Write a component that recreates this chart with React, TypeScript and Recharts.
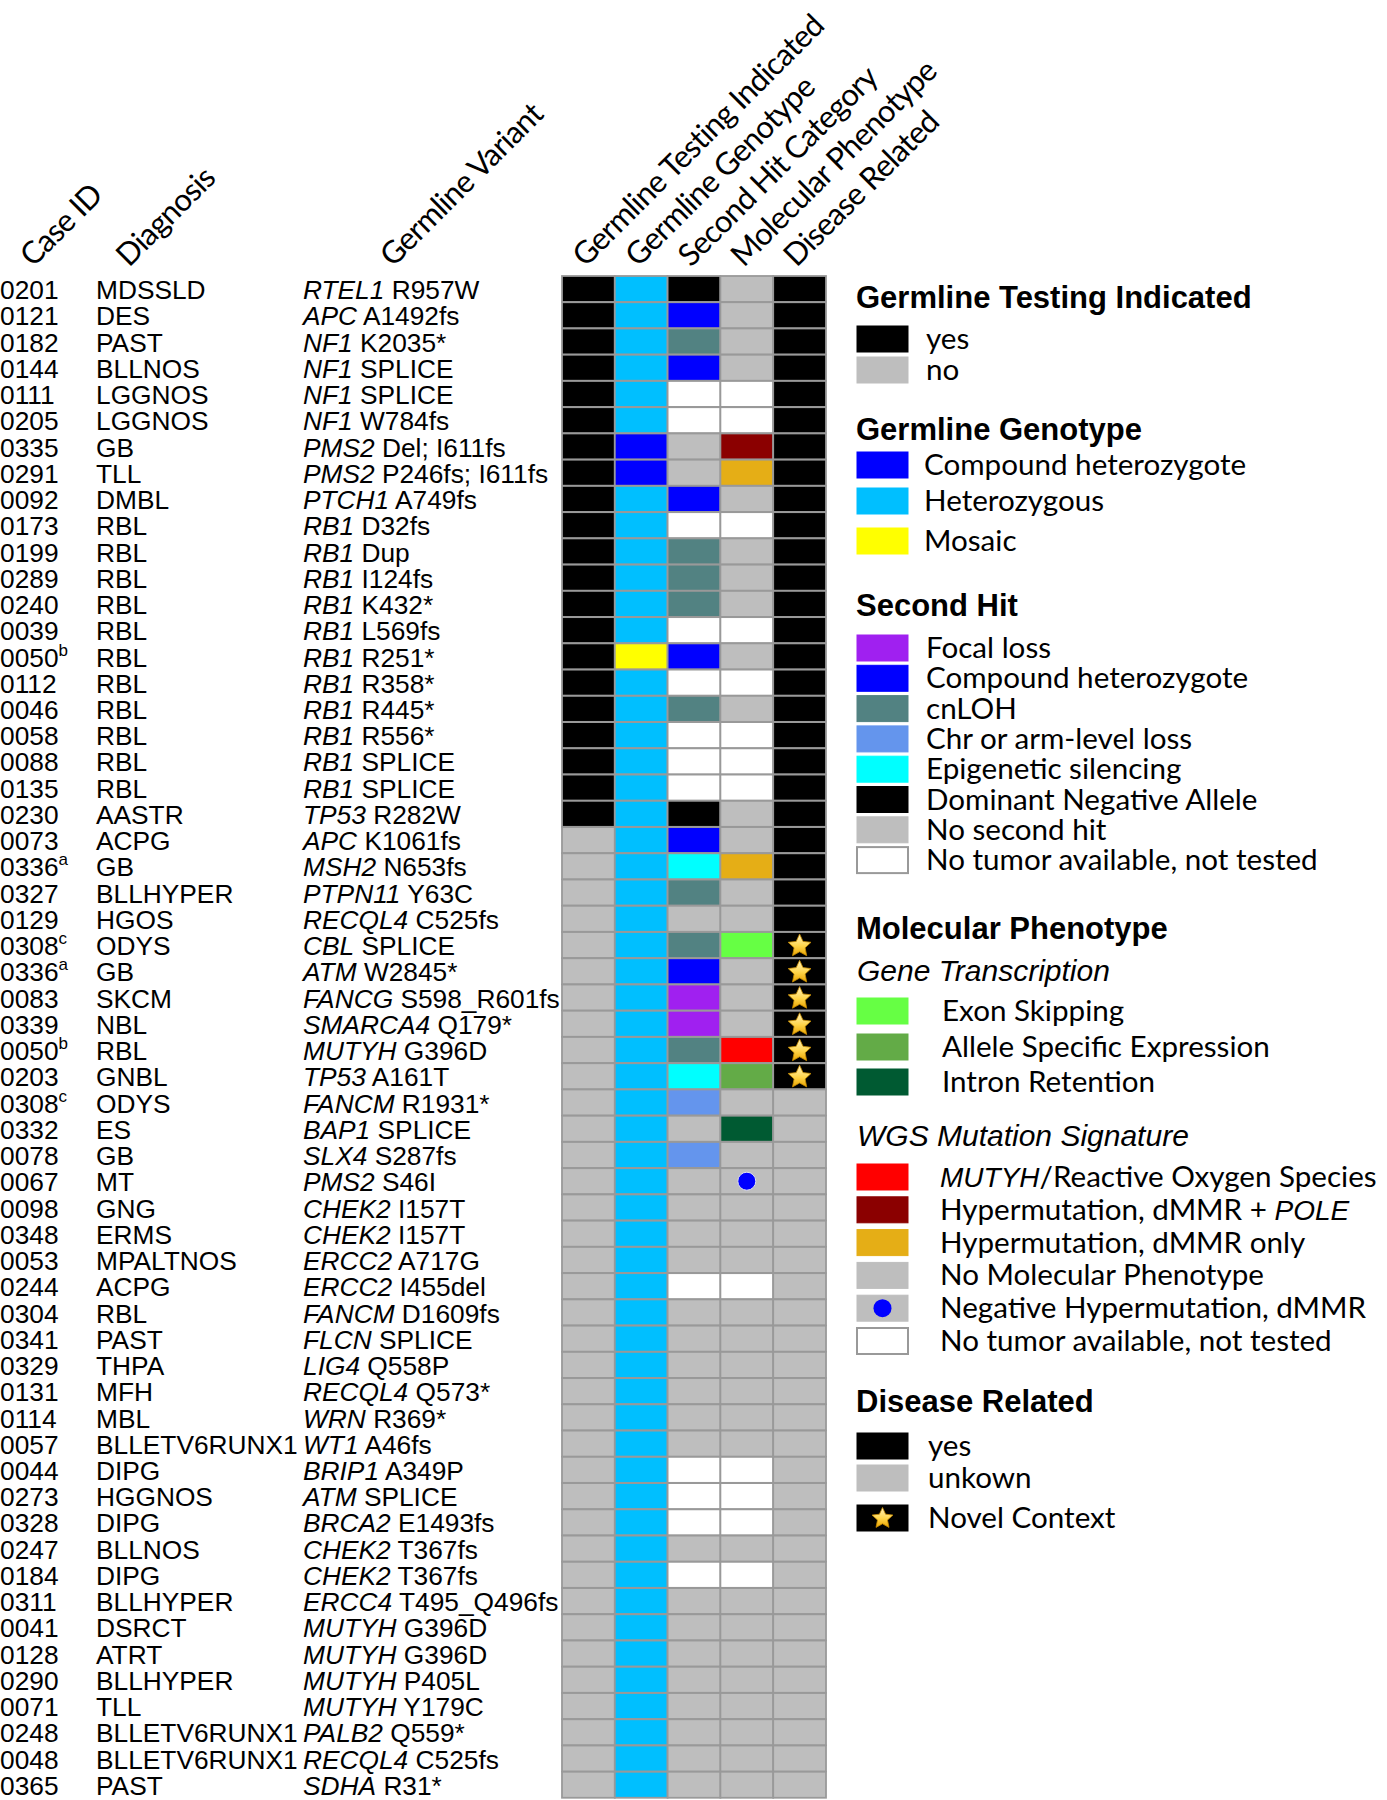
import { BarChart, Bar, XAxis, YAxis } from "recharts";

// row labels
const caseIds = [
  "0201", "0121", "0182", "0144", "0111", "0205", "0335", "0291", "0092", "0173",
  "0199", "0289", "0240", "0039", "0050", "0112", "0046", "0058", "0088", "0135",
  "0230", "0073", "0336", "0327", "0129", "0308", "0336", "0083", "0339", "0050",
  "0203", "0308", "0332", "0078", "0067", "0098", "0348", "0053", "0244", "0304",
  "0341", "0329", "0131", "0114", "0057", "0044", "0273", "0328", "0247", "0184",
  "0311", "0041", "0128", "0290", "0071", "0248", "0048", "0365",
];
const caseNotes = [
  "", "", "", "", "", "", "", "", "", "",
  "", "", "", "", "b", "", "", "", "", "",
  "", "", "a", "", "", "c", "a", "", "", "b",
  "", "c", "", "", "", "", "", "", "", "",
  "", "", "", "", "", "", "", "", "", "",
  "", "", "", "", "", "", "", "",
];
const diagnoses = [
  "MDSSLD", "DES", "PAST", "BLLNOS", "LGGNOS", "LGGNOS", "GB", "TLL", "DMBL", "RBL",
  "RBL", "RBL", "RBL", "RBL", "RBL", "RBL", "RBL", "RBL", "RBL", "RBL",
  "AASTR", "ACPG", "GB", "BLLHYPER", "HGOS", "ODYS", "GB", "SKCM", "NBL", "RBL",
  "GNBL", "ODYS", "ES", "GB", "MT", "GNG", "ERMS", "MPALTNOS", "ACPG", "RBL",
  "PAST", "THPA", "MFH", "MBL", "BLLETV6RUNX1", "DIPG", "HGGNOS", "DIPG", "BLLNOS", "DIPG",
  "BLLHYPER", "DSRCT", "ATRT", "BLLHYPER", "TLL", "BLLETV6RUNX1", "BLLETV6RUNX1", "PAST",
];
const genes = [
  "RTEL1", "APC", "NF1", "NF1", "NF1", "NF1", "PMS2", "PMS2", "PTCH1", "RB1",
  "RB1", "RB1", "RB1", "RB1", "RB1", "RB1", "RB1", "RB1", "RB1", "RB1",
  "TP53", "APC", "MSH2", "PTPN11", "RECQL4", "CBL", "ATM", "FANCG", "SMARCA4", "MUTYH",
  "TP53", "FANCM", "BAP1", "SLX4", "PMS2", "CHEK2", "CHEK2", "ERCC2", "ERCC2", "FANCM",
  "FLCN", "LIG4", "RECQL4", "WRN", "WT1", "BRIP1", "ATM", "BRCA2", "CHEK2", "CHEK2",
  "ERCC4", "MUTYH", "MUTYH", "MUTYH", "MUTYH", "PALB2", "RECQL4", "SDHA",
];
const variants = [
  "R957W", "A1492fs", "K2035*", "SPLICE", "SPLICE", "W784fs", "Del; I611fs", "P246fs; I611fs", "A749fs", "D32fs",
  "Dup", "I124fs", "K432*", "L569fs", "R251*", "R358*", "R445*", "R556*", "SPLICE", "SPLICE",
  "R282W", "K1061fs", "N653fs", "Y63C", "C525fs", "SPLICE", "W2845*", "S598_R601fs", "Q179*", "G396D",
  "A161T", "R1931*", "SPLICE", "S287fs", "S46I", "I157T", "I157T", "A717G", "I455del", "D1609fs",
  "SPLICE", "Q558P", "Q573*", "R369*", "A46fs", "A349P", "SPLICE", "E1493fs", "T367fs", "T367fs",
  "T495_Q496fs", "G396D", "G396D", "P405L", "Y179C", "Q559*", "C525fs", "R31*",
];

// one category per cell, per column
const testing = [
  "yes", "yes", "yes", "yes", "yes", "yes", "yes", "yes", "yes", "yes",
  "yes", "yes", "yes", "yes", "yes", "yes", "yes", "yes", "yes", "yes",
  "yes", "no", "no", "no", "no", "no", "no", "no", "no", "no",
  "no", "no", "no", "no", "no", "no", "no", "no", "no", "no",
  "no", "no", "no", "no", "no", "no", "no", "no", "no", "no",
  "no", "no", "no", "no", "no", "no", "no", "no",
];
const genotype = [
  "het", "het", "het", "het", "het", "het", "comp", "comp", "het", "het",
  "het", "het", "het", "het", "mos", "het", "het", "het", "het", "het",
  "het", "het", "het", "het", "het", "het", "het", "het", "het", "het",
  "het", "het", "het", "het", "het", "het", "het", "het", "het", "het",
  "het", "het", "het", "het", "het", "het", "het", "het", "het", "het",
  "het", "het", "het", "het", "het", "het", "het", "het",
];
const secondHit = [
  "dom", "comp", "cnloh", "comp", "nt", "nt", "none", "none", "comp", "nt",
  "cnloh", "cnloh", "cnloh", "nt", "comp", "nt", "cnloh", "nt", "nt", "nt",
  "dom", "comp", "epi", "cnloh", "none", "cnloh", "comp", "focal", "focal", "cnloh",
  "epi", "chr", "none", "chr", "none", "none", "none", "none", "nt", "none",
  "none", "none", "none", "none", "none", "nt", "nt", "nt", "none", "nt",
  "none", "none", "none", "none", "none", "none", "none", "none",
];
const molecular = [
  "none", "none", "none", "none", "nt", "nt", "pole", "dmmr", "none", "nt",
  "none", "none", "none", "nt", "none", "nt", "none", "nt", "nt", "nt",
  "none", "none", "dmmr", "none", "none", "exon", "none", "none", "none", "mutyh",
  "ase", "none", "intron", "none", "neg", "none", "none", "none", "nt", "none",
  "none", "none", "none", "none", "none", "nt", "nt", "nt", "none", "nt",
  "none", "none", "none", "none", "none", "none", "none", "none",
];
const disease = [
  "yes", "yes", "yes", "yes", "yes", "yes", "yes", "yes", "yes", "yes",
  "yes", "yes", "yes", "yes", "yes", "yes", "yes", "yes", "yes", "yes",
  "yes", "yes", "yes", "yes", "yes", "novel", "novel", "novel", "novel", "novel",
  "novel", "unk", "unk", "unk", "unk", "unk", "unk", "unk", "unk", "unk",
  "unk", "unk", "unk", "unk", "unk", "unk", "unk", "unk", "unk", "unk",
  "unk", "unk", "unk", "unk", "unk", "unk", "unk", "unk",
];

const columnTitles = [
  "Germline Testing Indicated",
  "Germline Genotype",
  "Second Hit Category",
  "Molecular Phenotype",
  "Disease Related",
];
const leftTitles = ["Case ID", "Diagnosis", "Germline Variant"];

const testingLegend = [
  { code: "yes", label: "yes" },
  { code: "no", label: "no" },
];
const genotypeLegend = [
  { code: "comp", label: "Compound heterozygote" },
  { code: "het", label: "Heterozygous" },
  { code: "mos", label: "Mosaic" },
];
const secondHitLegend = [
  { code: "focal", label: "Focal loss" },
  { code: "comp", label: "Compound heterozygote" },
  { code: "cnloh", label: "cnLOH" },
  { code: "chr", label: "Chr or arm-level loss" },
  { code: "epi", label: "Epigenetic silencing" },
  { code: "dom", label: "Dominant Negative Allele" },
  { code: "none", label: "No second hit" },
  { code: "nt", label: "No tumor available, not tested" },
];
const transcriptionLegend = [
  { code: "exon", label: "Exon Skipping" },
  { code: "ase", label: "Allele Specific Expression" },
  { code: "intron", label: "Intron Retention" },
];
const signatureLegend = [
  { code: "mutyh", label: "MUTYH/Reactive Oxygen Species" },
  { code: "pole", label: "Hypermutation, dMMR + POLE" },
  { code: "dmmr", label: "Hypermutation, dMMR only" },
  { code: "none", label: "No Molecular Phenotype" },
  { code: "neg", label: "Negative Hypermutation, dMMR" },
  { code: "nt", label: "No tumor available, not tested" },
];
const diseaseLegend = [
  { code: "yes", label: "yes" },
  { code: "unk", label: "unkown" },
  { code: "novel", label: "Novel Context" },
];

const COLORS: Record<string, string> = {
  yes: "#000000",
  no: "#BEBEBE",
  het: "#00BFFF",
  comp: "#0000FF",
  mos: "#FFFF00",
  focal: "#A020F0",
  cnloh: "#528282",
  chr: "#6495ED",
  epi: "#00FFFF",
  dom: "#000000",
  none: "#BEBEBE",
  nt: "#FFFFFF",
  exon: "#66FF44",
  ase: "#63AB47",
  intron: "#005A32",
  mutyh: "#FF0000",
  pole: "#8B0000",
  dmmr: "#E5AE16",
  neg: "#BEBEBE",
  unk: "#BEBEBE",
  novel: "#000000",
};

const columns = [testing, genotype, secondHit, molecular, disease];
const rows = caseIds.map((_, i) => ({ key: String(i), c0: 1, c1: 1, c2: 1, c3: 1, c4: 1 }));

const W = 1387;
const H = 1800;
const ARIAL = "'Liberation Sans', Arial, Helvetica, sans-serif";
const MYRIAD = "Lato, 'Open Sans', sans-serif";
const ROW_TEXT_X = [0, 96, 303];
const LEFT_TITLE_X = [33, 129, 393];
const GRID = "#999999";

function Star({ cx, cy, r }: { cx: number; cy: number; r: number }) {
  const pts: string[] = [];
  for (let k = 0; k < 10; k++) {
    const rad = k % 2 === 0 ? r : r * 0.48;
    const a = -Math.PI / 2 + (k * Math.PI) / 5;
    pts.push(`${(cx + rad * Math.cos(a)).toFixed(1)},${(cy + rad * Math.sin(a)).toFixed(1)}`);
  }
  return (
    <g>
      <defs>
        <linearGradient id="starGrad" x1="0" y1="0" x2="0" y2="1">
          <stop offset="0%" stopColor="#FFF4C4" />
          <stop offset="55%" stopColor="#FFD54A" />
          <stop offset="100%" stopColor="#E9A400" />
        </linearGradient>
      </defs>
      <polygon points={pts.join(" ")} fill="url(#starGrad)" stroke="#C58A00" strokeWidth={0.8} strokeLinejoin="round" />
    </g>
  );
}

const cellShape = (col: number) => (p: any) => {
  const i = Number(p.payload.key);
  const code = columns[col][i];
  const cx = p.x + p.width / 2;
  const cy = p.y + p.height / 2;
  return (
    <g>
      <rect x={p.x} y={p.y} width={p.width} height={p.height} fill={COLORS[code]} stroke={GRID} strokeWidth={1.8} />
      {code === "novel" && <Star cx={cx} cy={cy + 1} r={12} />}
      {code === "neg" && <circle cx={cx} cy={cy} r={9} fill="#0000FF" stroke="#E0E0F0" strokeWidth={1} />}
    </g>
  );
};

function RowTick(props: any) {
  const { y, payload } = props;
  const i = Number(payload.value);
  const base = y + 10;
  return (
    <g fontFamily={ARIAL} fontSize={26.3} fill="#000">
      <text x={ROW_TEXT_X[0]} y={base}>
        {caseIds[i]}
        {caseNotes[i] && (
          <tspan dy={-11} fontSize={17}>
            {caseNotes[i]}
          </tspan>
        )}
      </text>
      <text x={ROW_TEXT_X[1]} y={base}>
        {diagnoses[i]}
      </text>
      <text x={ROW_TEXT_X[2]} y={base}>
        <tspan fontStyle="italic">{genes[i]}</tspan>
        {" "}
        {variants[i]}
      </text>
    </g>
  );
}

function HeaderTick(props: any) {
  const { x, y, payload } = props;
  const idx = Math.floor(payload.value);
  const ty = y - 8;
  return (
    <g fontFamily={MYRIAD} fontSize={31} letterSpacing={-0.8} fill="#000">
      <text transform={`translate(${x - 3},${ty}) rotate(-45)`}>{columnTitles[idx]}</text>
      {idx === 0 &&
        leftTitles.map((t, k) => (
          <text key={t} transform={`translate(${LEFT_TITLE_X[k]},${ty}) rotate(-45)`}>
            {t}
          </text>
        ))}
    </g>
  );
}

function LegendLabel({ text }: { text: string }) {
  const parts = text.split(/(MUTYH|POLE)/);
  return (
    <>
      {parts.map((s, k) =>
        s === "MUTYH" || s === "POLE" ? (
          <tspan key={k} fontFamily={ARIAL} fontStyle="italic" fontSize={28}>
            {s}
          </tspan>
        ) : (
          <tspan key={k}>{s}</tspan>
        )
      )}
    </>
  );
}

function LegendEntries({
  items,
  tops,
  textX,
}: {
  items: { code: string; label: string }[];
  tops: number[];
  textX: number;
}) {
  return (
    <g>
      {items.map((it, k) => {
        const y = tops[k];
        return (
          <g key={it.label}>
            <rect
              x={857}
              y={y}
              width={51}
              height={26}
              fill={COLORS[it.code]}
              stroke={it.code === "nt" ? GRID : COLORS[it.code]}
              strokeWidth={it.code === "nt" ? 2 : 1}
            />
            {it.code === "novel" && <Star cx={882.5} cy={y + 13.5} r={11} />}
            {it.code === "neg" && <circle cx={882.5} cy={y + 13} r={9} fill="#0000FF" />}
            <text x={textX} y={y + 23} fontFamily={MYRIAD} fontSize={29.6} fill="#000">
              <LegendLabel text={it.label} />
            </text>
          </g>
        );
      })}
    </g>
  );
}

const spaced = (start: number, step: number, n: number) => Array.from({ length: n }, (_, k) => start + k * step);

function LegendPanel() {
  const title = (y: number, t: string) => (
    <text x={856} y={y} fontFamily={ARIAL} fontWeight="bold" fontSize={31} fill="#000">
      {t}
    </text>
  );
  const sub = (y: number, t: string) => (
    <text x={857} y={y} fontFamily={ARIAL} fontStyle="italic" fontSize={30} fill="#000">
      {t}
    </text>
  );
  return (
    <svg width={W} height={H} style={{ position: "absolute", left: 0, top: 0 }}>
      {title(308, "Germline Testing Indicated")}
      <LegendEntries items={testingLegend} tops={[326, 357]} textX={926} />
      {title(440, "Germline Genotype")}
      <LegendEntries items={genotypeLegend} tops={[452, 488, 528]} textX={924} />
      {title(616, "Second Hit")}
      <LegendEntries items={secondHitLegend} tops={spaced(635, 30.3, 8)} textX={926} />
      {title(939, "Molecular Phenotype")}
      {sub(981, "Gene Transcription")}
      <LegendEntries items={transcriptionLegend} tops={[998, 1034, 1069]} textX={942} />
      {sub(1146, "WGS Mutation Signature")}
      <LegendEntries items={signatureLegend} tops={spaced(1164, 32.8, 6)} textX={940} />
      {title(1412, "Disease Related")}
      <LegendEntries items={diseaseLegend} tops={[1433, 1465, 1505]} textX={928} />
    </svg>
  );
}

export default function App() {
  return (
    <div style={{ position: "relative", width: W, height: H, background: "#fff" }}>
      <style>{"body{margin:0}"}</style>
      <BarChart
        width={W}
        height={H}
        data={rows}
        layout="vertical"
        margin={{ top: 0, right: 561, bottom: 2, left: 0 }}
        barCategoryGap={0}
        barGap={0}
      >
        <XAxis
          type="number"
          orientation="top"
          domain={[0, 5]}
          ticks={[0.5, 1.5, 2.5, 3.5, 4.5]}
          interval={0}
          height={276}
          axisLine={false}
          tickLine={false}
          tickSize={0}
          tickMargin={0}
          tick={<HeaderTick />}
        />
        <YAxis
          type="category"
          dataKey="key"
          width={562}
          interval={0}
          axisLine={false}
          tickLine={false}
          tickSize={0}
          tickMargin={0}
          tick={<RowTick />}
        />
        {["c0", "c1", "c2", "c3", "c4"].map((k, col) => (
          <Bar key={k} dataKey={k} stackId="grid" isAnimationActive={false} shape={cellShape(col)} />
        ))}
      </BarChart>
      <LegendPanel />
    </div>
  );
}
